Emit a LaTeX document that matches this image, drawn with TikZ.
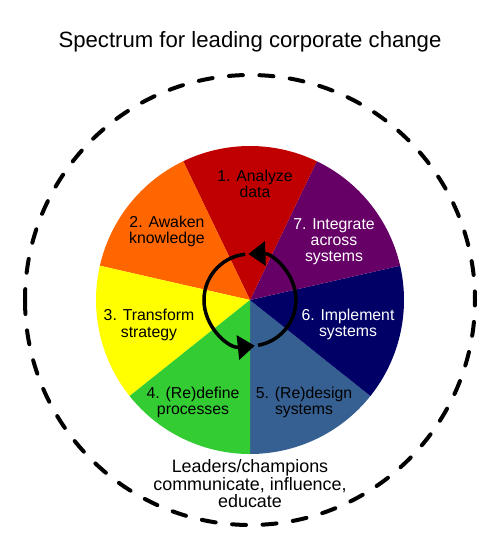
\documentclass[tikz,border=0pt]{standalone}
\usepackage{fontspec}
\setmainfont{Liberation Sans}
\usetikzlibrary{arrows.meta}

\definecolor{analyzered}{HTML}{C00000}
\definecolor{awakenorange}{HTML}{FF6600}
\definecolor{transformyellow}{HTML}{FFFF00}
\definecolor{redefinegreen}{HTML}{33CC33}
\definecolor{redesignblue}{HTML}{366092}
\definecolor{implementnavy}{HTML}{000066}
\definecolor{integratepurple}{HTML}{660066}

\tikzstyle{slicetext} = [align=center, inner sep=0pt, font=\fontsize{9}{9.2}\selectfont]
\tikzstyle{lighttext} = [slicetext, text=white]
\tikzstyle{heading} = [inner sep=0pt, font=\fontsize{12.6}{14}\selectfont]
\tikzstyle{note} = [align=center, inner sep=0pt, font=\fontsize{10.2}{10}\selectfont]
\tikzstyle{turnarrow} = [line width=0.07cm, -{Triangle[length=0.34cm,width=0.48cm]}]
\tikzstyle{boundary} = [line width=0.08cm, line cap=round, dash pattern=on 0.28cm off 0.33cm]

\begin{document}
\begin{tikzpicture}

\useasboundingbox (-5,-5) rectangle (5,6);
\coordinate (hub) at (0,0);

% Title
\node[heading, anchor=base](title) at (0,5.04) {Spectrum for leading corporate change};

% Outer dashed ring
\draw[boundary] (180:4.5) arc[start angle=180, end angle=540, radius=4.5];

% Slices of the wheel
\fill[redesignblue] (hub) -- (-90:3.08) arc[start angle=-90, end angle=-38.57, radius=3.08] -- cycle;
\fill[implementnavy] (hub) -- (-38.57:3.08) arc[start angle=-38.57, end angle=12.86, radius=3.08] -- cycle;
\fill[integratepurple] (hub) -- (12.86:3.08) arc[start angle=12.86, end angle=64.29, radius=3.08] -- cycle;
\fill[analyzered] (hub) -- (64.29:3.08) arc[start angle=64.29, end angle=115.71, radius=3.08] -- cycle;
\fill[awakenorange] (hub) -- (115.71:3.08) arc[start angle=115.71, end angle=167.14, radius=3.08] -- cycle;
\fill[transformyellow] (hub) -- (167.14:3.08) arc[start angle=167.14, end angle=218.57, radius=3.08] -- cycle;
\fill[redefinegreen] (hub) -- (218.57:3.08) arc[start angle=218.57, end angle=270, radius=3.08] -- cycle;

% Labels of the slices
\node[slicetext](analyze) at (0.10,2.32) {1. Analyze\\data};
\node[slicetext](awaken) at (-1.66,1.38) {2. Awaken\\knowledge};
\node[slicetext](transform) at (-2.02,-0.50) {3. Transform\\strategy};
\node[slicetext](redefine) at (-1.14,-2.04) {4. (Re)define\\processes};
\node[slicetext](redesign) at (1.08,-2.04) {5. (Re)design\\systems};
\node[lighttext](implement) at (1.96,-0.48) {6. Implement\\systems};
\node[lighttext](integrate) at (1.68,1.16) {7. Integrate\\across\\systems};

% Cycle arrows round the hub
\draw[turnarrow] (-80:0.92) arc[start angle=-80, end angle=92, radius=0.92];
\draw[turnarrow] (96:0.92) arc[start angle=96, end angle=276, radius=0.92];

% Text under the wheel
\node[note](leaders) at (0,-3.68) {Leaders/champions\\communicate, influence,\\educate};

\end{tikzpicture}
\end{document}
